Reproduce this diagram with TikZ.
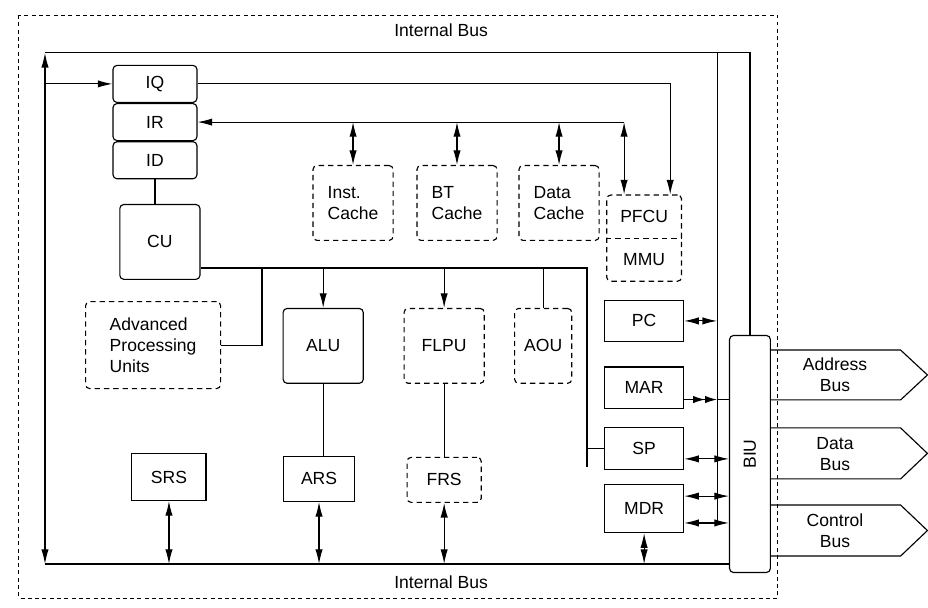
\documentclass[tikz,border=0pt]{standalone}
\usepackage{fontspec}
\setmainfont{Liberation Sans}
\usepackage{graphicx}
\usetikzlibrary{arrows.meta,positioning}

\begin{document}
\begin{tikzpicture}[line width=0.85pt, >={Latex[length=11pt,width=5.5pt]},
  font=\fontsize{13.2pt}{15.8pt}\selectfont,
  qbox/.style={draw, rounded corners=3pt, minimum width=2.22cm, minimum height=0.98cm},
  unitbox/.style={draw, rounded corners=3pt, minimum width=2.12cm, minimum height=1.98cm, align=center},
  optbox/.style={unitbox, dash pattern=on 4pt off 3pt, align=left},
  regbox/.style={draw, minimum width=2.09cm, minimum height=1.1cm},
  twohead/.style={-{Latex[length=9pt,width=5.5pt] Latex[length=9pt,width=5.5pt]}}]
  \useasboundingbox (0,0) rectangle (24.55,-16.06);

  % chip boundary
  \draw[line width=0.7pt, dash pattern=on 3pt off 2.5pt] (0.50,-0.40) rectangle (20.58,-15.82);

  % instruction side
  \node[qbox] (iq) at (4.10,-2.22) {IQ};
  \node[qbox, below=0 of iq] (ir) {IR};
  \node[qbox, below=0 of ir] (id) {ID};
  \node[unitbox] (cu) at (4.23,-6.40) {CU};

  \node[optbox] (icache) at (9.34,-5.37) {Inst.\\Cache};
  \node[optbox, right=0.6cm of icache] (btcache) {BT\\Cache};
  \node[optbox, right=0.55cm of btcache] (dcache) {Data\\Cache};
  \node[optbox, minimum width=1.98cm, minimum height=2.28cm] (pfbox) at (17.04,-6.30) {};
  \node (pfcu) at ([yshift=0.57cm]pfbox.center) {PFCU};
  \node (mmu) at ([yshift=-0.57cm]pfbox.center) {MMU};
  \draw[dash pattern=on 4pt off 3pt] (pfbox.west) -- (pfbox.east);

  % execution units
  \node[optbox, minimum width=3.57cm, minimum height=2.30cm] (apu) at (4.05,-9.13) {Advanced\\Processing\\Units};
  \node[unitbox] (alu) at (8.55,-9.15) {ALU};
  \node[optbox] (flpu) at (11.75,-9.15) {FLPU};
  \node[optbox, minimum width=1.51cm] (aou) at (14.37,-9.15) {AOU};

  \node[regbox, minimum width=1.96cm, minimum height=1.24cm] (srs) at (4.47,-12.62) {SRS};
  \node[regbox, minimum width=1.88cm, minimum height=1.19cm] (ars) at (8.44,-12.67) {ARS};
  \node[optbox, minimum width=1.96cm, minimum height=1.19cm, below=1.93cm of flpu] (frs) {FRS};

  % registers and bus interface
  \node[regbox] (pc) at (17.04,-8.49) {PC};
  \node[regbox, below=0.64cm of pc] (mar) {MAR};
  \node[regbox, below=0.48cm of mar] (sp) {SP};
  \node[regbox, minimum height=1.27cm, below=0.37cm of sp] (mdr) {MDR};
  \node[draw, rounded corners=3pt, minimum width=1.08cm, minimum height=6.27cm] (biu) at (19.84,-12.01) {\rotatebox{90}{BIU}};

  % external buses
  \draw ([yshift=2.75cm]biu.east) -- ++(3.43,0) -- ++(0.71,-0.66) -- ++(-0.71,-0.66) -- ++(-3.43,0);
  \draw ([yshift=0.69cm]biu.east) -- ++(3.43,0) -- ++(0.71,-0.675) -- ++(-0.71,-0.675) -- ++(-3.43,0);
  \draw ([yshift=-1.35cm]biu.east) -- ++(3.43,0) -- ++(0.71,-0.675) -- ++(-0.71,-0.675) -- ++(-3.43,0);
  \node[align=center] (addr) at (22.09,-9.92) {Address\\Bus};
  \node[align=center] (data) at (22.09,-12.00) {Data\\Bus};
  \node[align=center] (ctrl) at (22.09,-14.03) {Control\\Bus};

  \node (topbus) at (11.67,-0.81) {Internal Bus};
  \node (botbus) at (11.67,-15.40) {Internal Bus};

  % internal bus
  \coordinate (tl) at (1.19,-1.40);
  \coordinate (bl) at (1.19,-14.92);
  \coordinate (vtop) at (18.97,-1.40);
  \draw (tl) -| (biu.north);
  \draw[<->] (tl) -- (bl);
  \draw (bl) -- (bl -| biu.west);
  \draw[->] (tl |- iq.west) -- (iq.west);

  % fetch paths
  \coordinate (pfl) at ([xshift=-0.53cm]pfbox.north);
  \coordinate (pfr) at ([xshift=0.69cm]pfbox.north);
  \draw[->] (iq.east) -| (pfr);
  \draw[->] (pfl |- ir.east) -- (ir.east);
  \draw[<->] (icache.north |- ir.east) -- (icache.north);
  \draw[<->] (btcache.north |- ir.east) -- (btcache.north);
  \draw[<->] (dcache.north |- ir.east) -- (dcache.north);
  \draw[<->] (pfl |- ir.east) -- (pfl);
  \draw (id.south) -- (id.south |- cu.north);

  % control lines
  \coordinate (cuout) at ([yshift=-0.69cm]cu.east);
  \coordinate (apuj) at (6.93,-7.09);
  \coordinate (spj) at (15.53,-12.36);
  \draw (cuout) -| (spj);
  \draw (spj |- sp.west) -- (sp.west);
  \draw (apuj) |- (apu.east);
  \draw[->] (alu.north |- cuout) -- (alu.north);
  \draw[->] (flpu.north |- cuout) -- (flpu.north);
  \draw (aou.north |- cuout) -- (aou.north);
  \draw (alu.south) -- (alu.south |- ars.north);
  \draw (flpu.south) -- (frs.north);

  \draw[<->] (srs.south) -- (srs.south |- bl);
  \draw[<->] (ars.south) -- (ars.south |- bl);
  \draw[<->] (frs.south) -- (frs.south |- bl);
  \draw[<->] (mdr.south) -- (mdr.south |- bl);

  % register links
  \coordinate (marout) at ([yshift=-0.31cm]mar.east);
  \coordinate (spout) at ([yshift=-0.27cm]sp.east);
  \coordinate (mdr1) at ([yshift=0.33cm]mdr.east);
  \coordinate (mdr2) at ([yshift=-0.38cm]mdr.east);
  \draw (vtop) -- (vtop |- mdr2);
  \draw[<->] (pc.east) -- (pc.east -| vtop);
  \draw[twohead] (marout) -- (marout -| vtop);
  \draw (marout -| vtop) -- (marout -| biu.west);
  \draw[<->] (spout) -- (spout -| biu.west);
  \draw[<->] (mdr1) -- (mdr1 -| biu.west);
  \draw[<->] (mdr2) -- (mdr2 -| biu.west);
\end{tikzpicture}
\end{document}
